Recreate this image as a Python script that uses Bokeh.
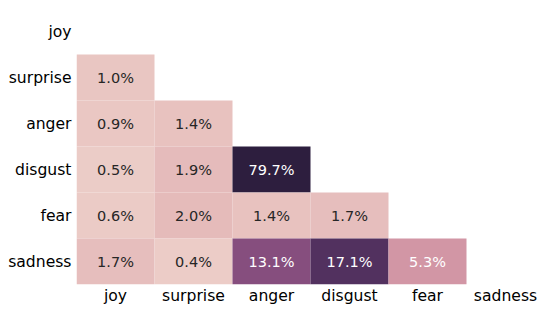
import numpy as np
from bokeh.plotting import figure
from bokeh.models import ColumnDataSource, LinearColorMapper, FactorRange
from bokeh.transform import transform
from bokeh.core.properties import value
from bokeh.embed import file_html
from bokeh.resources import INLINE

# ---- data ----
categories = ["joy", "surprise", "anger", "disgust", "fear", "sadness"]
cell_rows = ["surprise", "anger", "anger", "disgust", "disgust", "disgust",
             "fear", "fear", "fear", "fear",
             "sadness", "sadness", "sadness", "sadness", "sadness"]
cell_cols = ["joy", "joy", "surprise", "joy", "surprise", "anger",
             "joy", "surprise", "anger", "disgust",
             "joy", "surprise", "anger", "disgust", "fear"]
cell_values = [1.0, 0.9, 1.4, 0.5, 1.9, 79.7,
               0.6, 2.0, 1.4, 1.7,
               1.7, 0.4, 13.1, 17.1, 5.3]
color_low, color_high = 0.0, 20.0

# ---- cubehelix colormap (seaborn default) ----
def cubehelix(n=256, start=0.0, rot=0.4, gamma=1.0, hue=0.8, light=0.85, dark=0.15):
    x = np.linspace(light, dark, n)
    xg = x ** gamma
    a = hue * xg * (1 - xg) / 2
    phi = 2 * np.pi * (start / 3 + rot * x)
    def ch(p0, p1):
        return np.clip(xg + a * (p0 * np.cos(phi) + p1 * np.sin(phi)), 0, 1)
    r = ch(-0.14861, 1.78277)
    g = ch(-0.29227, -0.90649)
    b = ch(1.97294, 0.0)
    return [(float(ri), float(gi), float(bi)) for ri, gi, bi in zip(r, g, b)]

rgb = cubehelix()
def to_hex(c):
    return "#%02x%02x%02x" % tuple(int(round(v * 255)) for v in c)
palette = [to_hex(c) for c in rgb]

def lum(c):
    lin = [v / 12.92 if v <= 0.03928 else ((v + 0.055) / 1.055) ** 2.4 for v in c]
    return 0.2126 * lin[0] + 0.7152 * lin[1] + 0.0722 * lin[2]
text_palette = ["#262626" if lum(c) > 0.408 else "#ffffff" for c in rgb]

fill_mapper = LinearColorMapper(palette=palette, low=color_low, high=color_high,
                                high_color=palette[-1], low_color=palette[0])
text_mapper = LinearColorMapper(palette=text_palette, low=color_low, high=color_high,
                                high_color=text_palette[-1], low_color=text_palette[0])

source = ColumnDataSource(dict(
    row=cell_rows, col=cell_cols, val=cell_values,
    label=["%.1f%%" % v for v in cell_values],
))

p = figure(frame_width=468, frame_height=276, output_backend="svg", toolbar_location=None,
           x_range=FactorRange(factors=categories, range_padding=0),
           y_range=FactorRange(factors=categories[::-1], range_padding=0),
           min_border_left=76, min_border_right=3, min_border_top=8, min_border_bottom=10)

p.rect(x="col", y="row", width=1, height=1, source=source,
       fill_color=transform("val", fill_mapper), line_color=None)
p.text(x="col", y="row", text="label", source=source,
       text_align="center", text_baseline="middle",
       text_font=value("DejaVu Sans"), text_font_size="14.5px",
       text_color=transform("val", text_mapper))

p.grid.visible = False
p.outline_line_color = None
for ax in (p.xaxis, p.yaxis):
    ax.axis_line_color = None
    ax.major_tick_line_color = None
    ax.minor_tick_line_color = None
    ax.major_tick_out = 0
    ax.major_tick_in = 0
    ax.major_label_text_font = "DejaVu Sans"
    ax.major_label_text_font_size = "15.6px"
    ax.major_label_text_color = "#000000"
p.yaxis.major_label_standoff = 5
p.xaxis.major_label_standoff = 2

open("out.html", "w").write(file_html(p, INLINE))
